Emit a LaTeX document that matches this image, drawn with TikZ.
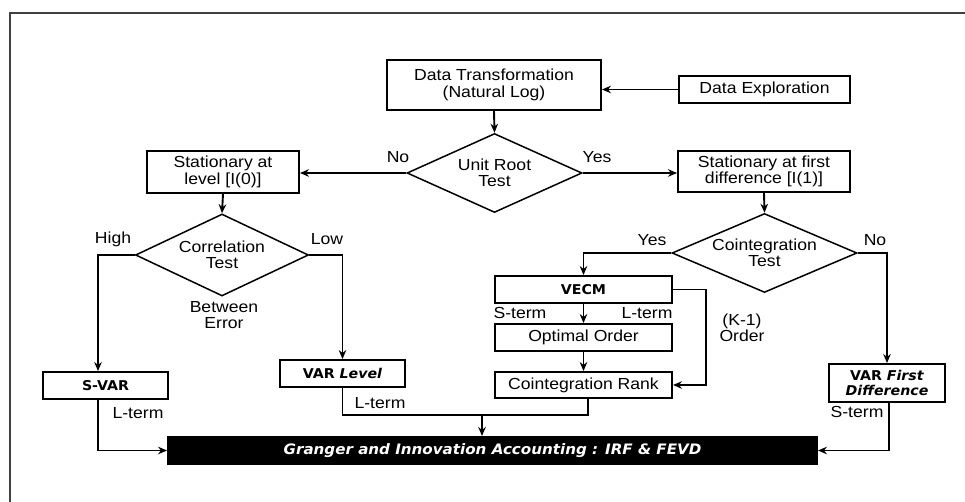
\documentclass[tikz,border=0pt]{standalone}
\usepackage{fontspec}
\setmainfont[FakeStretch=1.1]{Liberation Sans}
\newfontfamily\modelfont[FakeStretch=1.05]{DejaVu Sans}
\usepackage{tikz}
\usetikzlibrary{shapes.geometric, arrows.meta, positioning, calc}
\tikzstyle{block} = [rectangle, draw=black, line width=1.9pt, inner sep=0pt, align=center, font=\fontsize{16}{16.5}\selectfont]
\tikzstyle{model} = [rectangle, draw=black, line width=1.9pt, inner sep=0pt, align=center, font=\modelfont\bfseries\fontsize{13.5}{15}\selectfont]
\tikzstyle{decision} = [diamond, aspect=2.4, draw=black, line width=1.5pt, inner sep=0pt, align=center, font=\fontsize{16}{16.5}\selectfont]
\tikzstyle{note} = [inner sep=0pt, align=center, font=\fontsize{16}{16.5}\selectfont]
\tikzstyle{arrow} = [line width=1.9pt, -{Stealth[length=9pt,width=7.5pt]}]

\begin{document}
\begin{tikzpicture}[x=1pt, y=-1pt]
    \useasboundingbox (0,0) rectangle (965,502);
    \draw[line width=2.2pt, black!75] (10,502) -- (10,13) -- (965,13);

    \node[block, minimum width=214pt, minimum height=50pt] (trans) at (494,85) {Data Transformation\\(Natural Log)};
    \node[block, minimum width=171pt, minimum height=27pt] (explo) at (764.5,89.5) {Data Exploration};
    \node[decision, minimum width=175pt, minimum height=79pt] (unitroot) at (494.5,173) {Unit Root\\Test};
    \node[block, minimum width=152pt, minimum height=42pt] (level) at (223,172) {Stationary at\\level [I(0)]};
    \node[block, minimum width=172pt, minimum height=41pt] (firstdiff) at (764,171.5) {Stationary at first\\difference [I(1)]};
    \node[decision, minimum width=173pt, minimum height=82pt] (corr) at (222,255) {Correlation\\Test};
    \node[decision, minimum width=185pt, minimum height=79pt] (coint) at (764.5,253) {Cointegration\\Test};
    \node[model, minimum width=125pt, minimum height=27pt] (svar) at (105.5,385.5) {S-VAR};
    \node[model, minimum width=125pt, minimum height=27pt] (varlevel) at (342.5,373.5) {VAR \textit{Level}};
    \node[model, minimum width=177pt, minimum height=27pt] (vecm) at (583.5,289.5) {VECM};
    \node[block, minimum width=177pt, minimum height=27pt] (optorder) at (583.5,337.5) {Optimal Order};
    \node[block, minimum width=177pt, minimum height=26pt] (rank) at (583.5,385) {Cointegration Rank};
    \node[model, minimum width=116pt, minimum height=38pt] (varfd) at (887,383) {VAR \textit{First}\\\textit{Difference}};
    \node[model, fill=black, text=white, minimum width=649pt, minimum height=27pt, font=\modelfont\bfseries\fontsize{14.4}{15}\selectfont] (granger) at (492.5,450.5) {\textit{Granger and Innovation Accounting : IRF \& FEVD}};
    \coordinate (join) at (482,415);

    \node[note] (no1) at (398,157) {No};
    \node[note] (yes1) at (597,157) {Yes};
    \node[note] (high) at (113,239) {High};
    \node[note] (low) at (327,239) {Low};
    \node[note] (yes2) at (652,240) {Yes};
    \node[note] (no2) at (875,240) {No};
    \node[note] (between) at (224,315) {Between\\Error};
    \node[note] (lterm1) at (138,413) {L-term};
    \node[note] (lterm2) at (380,403) {L-term};
    \node[note] (sterm1) at (520,313) {S-term};
    \node[note] (lterm3) at (647,313) {L-term};
    \node[note] (korder) at (742,328) {(K-1)\\Order};
    \node[note] (sterm2) at (857,412) {S-term};

    \draw[arrow] (explo.west) -- (explo.west -| trans.east);
    \draw[arrow] (trans.south) -- (unitroot.north);
    \draw[arrow] (unitroot.west) -- (unitroot.west -| level.east);
    \draw[arrow] (unitroot.east) -- (unitroot.east -| firstdiff.west);
    \draw[arrow] (level.south) -- (corr.north);
    \draw[arrow] (firstdiff.south) -- (coint.north);
    \draw[arrow] (corr.west) -| ([xshift=-7.5pt]svar.north);
    \draw[arrow] (corr.east) -| (varlevel.north);
    \draw[arrow] (coint.west) -| (vecm.north);
    \draw[arrow] (coint.east) -| (varfd.north);
    \draw[arrow] (vecm.south) -- (optorder.north);
    \draw[arrow] (optorder.south) -- (rank.north);
    \draw[arrow] (vecm.east) -- ++(33,0) |- (rank.east);
    \draw[arrow] ([xshift=-7.5pt]svar.south) |- (granger.west);
    \draw[arrow] (varlevel.south) |- (join) -- (join |- granger.north);
    \draw[line width=1.9pt] ([xshift=4.5pt]rank.south) |- (join);
    \draw[arrow] ([xshift=2pt]varfd.south) |- (granger.east);
\end{tikzpicture}
\end{document}
